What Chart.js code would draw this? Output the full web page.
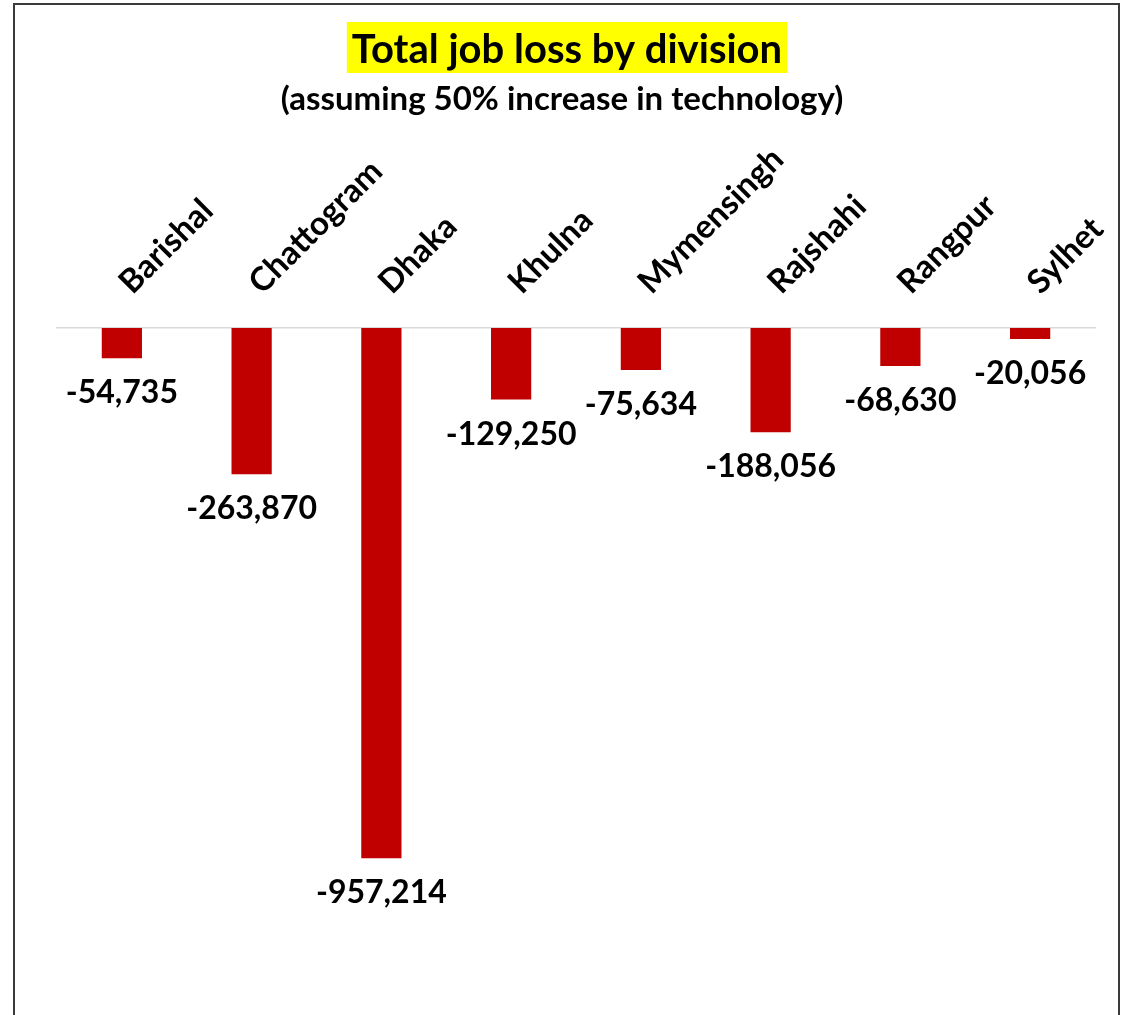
<!DOCTYPE html>
<html>
<head>
<meta charset="utf-8">
<title>Total job loss by division</title>
<script src="https://cdn.jsdelivr.net/npm/chart.js@4/dist/chart.umd.min.js"></script>
<style>
  html, body { margin: 0; padding: 0; background: #ffffff; }
  body { width: 1124px; height: 1015px; position: relative; overflow: hidden; }
  #frame {
    position: absolute; left: 13px; top: 3px; width: 1107px; height: 1030px;
    border: 2px solid #3a3a3a; box-sizing: border-box;
  }
  #chart { position: absolute; left: 0; top: 0; }
</style>
</head>
<body>
<div id="frame"></div>
<canvas id="chart" width="1124" height="1015"></canvas>
<script>
// Divisions and their estimated job losses
const divisions = ['Barishal', 'Chattogram', 'Dhaka', 'Khulna', 'Mymensingh', 'Rajshahi', 'Rangpur', 'Sylhet'];
const jobLoss = [-54735, -263870, -957214, -129250, -75634, -188056, -68630, -20056];

const titleText = 'Total job loss by division';
const subtitleText = '(assuming 50% increase in technology)';

const FONT = 'Lato, "Open Sans", "Noto Sans", sans-serif';
const fmt = new Intl.NumberFormat('en-US');

// Title with a yellow highlight plus subtitle
const headerPlugin = {
  id: 'header',
  afterDraw(chart) {
    const ctx = chart.ctx;
    const cx = 567;
    ctx.save();
    ctx.font = 'bold 40px ' + FONT;
    ctx.textAlign = 'center';
    ctx.textBaseline = 'alphabetic';
    const w = ctx.measureText(titleText).width;
    ctx.fillStyle = '#ffff00';
    ctx.fillRect(cx - w / 2 - 5, 22, w + 10, 51);
    ctx.fillStyle = '#000000';
    ctx.fillText(titleText, cx, 63);
    ctx.font = 'bold 33px ' + FONT;
    ctx.fillText(subtitleText, 562, 110);
    ctx.restore();
  }
};

// Value labels under each bar end
const valueLabels = {
  id: 'valueLabels',
  afterDatasetsDraw(chart) {
    const ctx = chart.ctx;
    const meta = chart.getDatasetMeta(0);
    ctx.save();
    ctx.font = 'bold 32px ' + FONT;
    ctx.fillStyle = '#000000';
    ctx.textAlign = 'center';
    ctx.textBaseline = 'alphabetic';
    meta.data.forEach((bar, i) => {
      ctx.fillText(fmt.format(jobLoss[i]), bar.x, bar.y + 45);
    });
    ctx.restore();
  }
};

new Chart(document.getElementById('chart'), {
  type: 'bar',
  data: {
    labels: divisions,
    datasets: [{
      data: jobLoss,
      backgroundColor: '#c00000',
      borderWidth: 0,
      categoryPercentage: 1,
      barPercentage: 0.31
    }]
  },
  options: {
    responsive: false,
    animation: false,
    devicePixelRatio: 1,
    layout: { padding: { left: 57, right: 29, top: 0, bottom: 133 } },
    plugins: {
      legend: { display: false },
      title: { display: false },
      tooltip: { enabled: false }
    },
    scales: {
      x: {
        position: 'top',
        grid: { display: false, drawTicks: false },
        border: { display: true, color: '#d9d9d9', width: 1.5 },
        ticks: {
          autoSkip: false,
          minRotation: 45,
          maxRotation: 45,
          padding: 26,
          labelOffset: 31,
          color: '#000000',
          font: { family: FONT, size: 33, weight: 'bold' }
        },
        afterFit(scale) {
          scale.height = 328;
          scale.paddingLeft = 0;
          scale.paddingRight = 0;
        }
      },
      y: {
        display: false,
        min: -1000000,
        max: 0
      }
    }
  },
  plugins: [headerPlugin, valueLabels]
});
</script>
</body>
</html>
